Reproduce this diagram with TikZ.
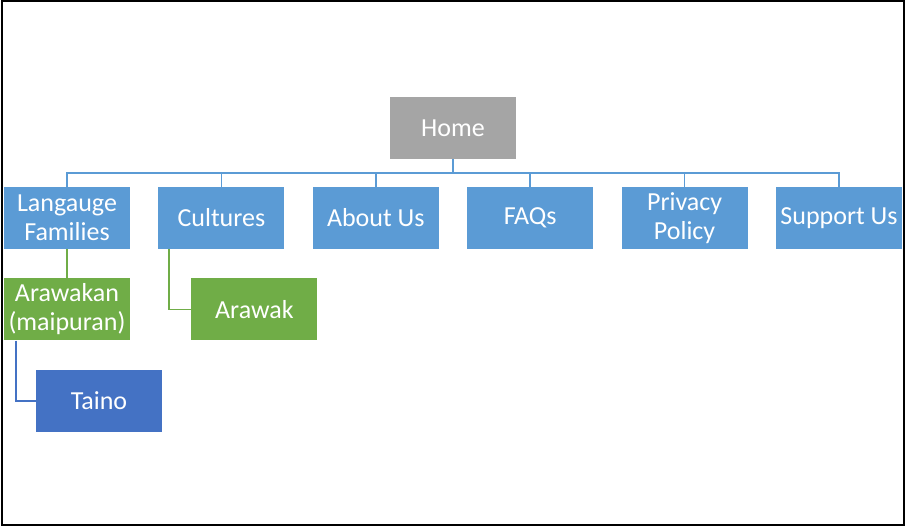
\documentclass[tikz,border=0pt]{standalone}
\usepackage{fontspec}
\setmainfont{Carlito}
\usetikzlibrary{positioning}
\definecolor{homegray}{RGB}{165,165,165}
\definecolor{pageblue}{RGB}{91,155,213}
\definecolor{subgreen}{RGB}{112,173,71}
\definecolor{leafblue}{RGB}{68,114,196}

\begin{document}
\begin{tikzpicture}[x=1pt,y=-1pt,
  box/.style={minimum width=126pt,minimum height=62pt,inner sep=0pt,text=white,
    align=center,font=\fontsize{26}{29}\selectfont},
  link/.style={line width=1.6pt}]
  \useasboundingbox (0,0) rectangle (906,527);
  \draw[line width=2pt] (2,1) rectangle (904,525);
  \node[box,fill=homegray] (home) at (453,128) {Home};
  % top level pages
  \foreach \n/\t [count=\i from 0] in {fam/{Langauge\\Families},cult/Cultures,about/About Us,
      faq/FAQs,priv/{Privacy\\Policy},supp/Support Us}{
    \node[box,fill=pageblue] (\n) at ({67+154.4*\i},218) {\t};
    \draw[link,draw=pageblue] (home.south) -- ++(0,14) -| (\n.north);
  }
  \node[box,fill=subgreen,below=29pt of fam] (arawakan) {Arawakan\\(maipuran)};
  \node[box,fill=subgreen,right=61pt of arawakan] (arawak) {Arawak};
  \node[box,fill=leafblue,below=29pt of arawakan,xshift=32pt] (taino) {Taino};
  \draw[link,draw=subgreen] (fam) -- (arawakan);
  \draw[link,draw=subgreen] ([xshift=11pt]cult.south west) |- (arawak);
  \draw[link,draw=leafblue] ([xshift=12pt]arawakan.south west) |- (taino);
\end{tikzpicture}
\end{document}
